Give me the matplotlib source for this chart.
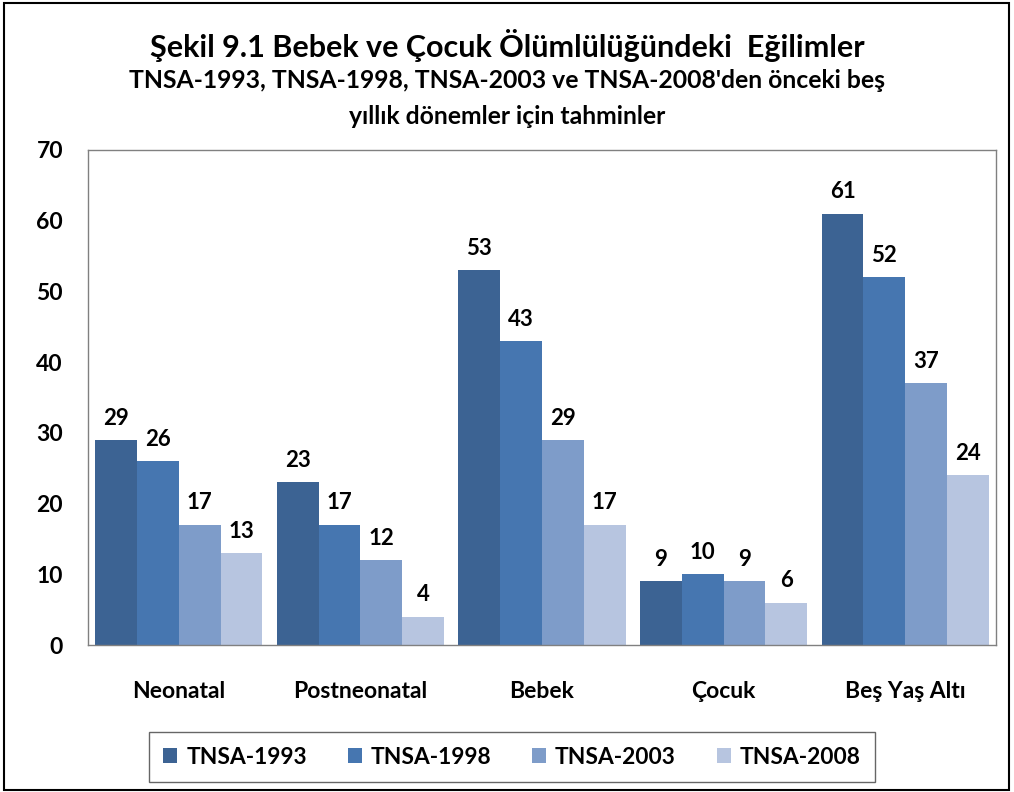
import numpy as np
import matplotlib.pyplot as plt
from matplotlib.patches import Rectangle

plt.rcParams['font.family'] = ['Lato', 'DejaVu Sans']
plt.rcParams['font.weight'] = 'bold'

categories = ['Neonatal', 'Postneonatal', 'Bebek', 'Çocuk', 'Beş Yaş Altı']
series = ['TNSA-1993', 'TNSA-1998', 'TNSA-2003', 'TNSA-2008']
tnsa1993 = [29, 23, 53, 9, 61]
tnsa1998 = [26, 17, 43, 10, 52]
tnsa2003 = [17, 12, 29, 9, 37]
tnsa2008 = [13, 4, 17, 6, 24]
colors = ['#3C6393', '#4676B0', '#7E9CC9', '#B7C5E0']

fig = plt.figure(figsize=(10.14, 7.92), dpi=100)
ax = fig.add_axes([88/1014, 1 - 645/792, (996-88)/1014, (645-150)/792])

x = np.arange(len(categories))
w = 0.23
allvals = [tnsa1993, tnsa1998, tnsa2003, tnsa2008]
for i, (vals, c, name) in enumerate(zip(allvals, colors, series)):
    pos = x + (i - 1.5) * w
    ax.bar(pos, vals, w, color=c, label=name, zorder=2)
    for p, v in zip(pos, vals):
        ax.text(p, v + 1.6, str(v), ha='center', va='bottom', fontsize=16, fontweight='bold')

ax.set_xlim(-0.5, len(categories) - 0.5)
ax.set_ylim(0, 70)
ax.set_yticks(range(0, 71, 10))
ax.set_xticks(x)
ax.set_xticklabels(categories)
ax.tick_params(axis='both', length=0, labelsize=16.5)
ax.tick_params(axis='x', pad=26)
ax.tick_params(axis='y', pad=18)
for s in ax.spines.values():
    s.set_color('#808080')
    s.set_linewidth(1.0)

fig.text(0.5, 1 - 45/792, 'Şekil 9.1 Bebek ve Çocuk Ölümlülüğündeki  Eğilimler',
         ha='center', va='center', fontsize=22, fontweight='bold')
fig.text(0.5, 1 - 81/792, "TNSA-1993, TNSA-1998, TNSA-2003 ve TNSA-2008'den önceki beş",
         ha='center', va='center', fontsize=17.8, fontweight='bold')
fig.text(0.5, 1 - 116/792, 'yıllık dönemler için tahminler',
         ha='center', va='center', fontsize=17.8, fontweight='bold')

leg = fig.legend(loc='center', bbox_to_anchor=(512/1014, 1 - 757/792), ncol=4,
                 fontsize=16.4, frameon=True, fancybox=False, edgecolor='#404040',
                 handlelength=0.6, handleheight=0.6, columnspacing=1.8, handletextpad=0.4,
                 borderpad=0.65, borderaxespad=0)
leg.get_frame().set_linewidth(1.0)

fig.patches.append(Rectangle((4/1014, 2/792), 1 - 9/1014, 1 - 5/792, transform=fig.transFigure,
                             fill=False, edgecolor='black', linewidth=1.5))

fig.savefig('out.png', dpi=100)
